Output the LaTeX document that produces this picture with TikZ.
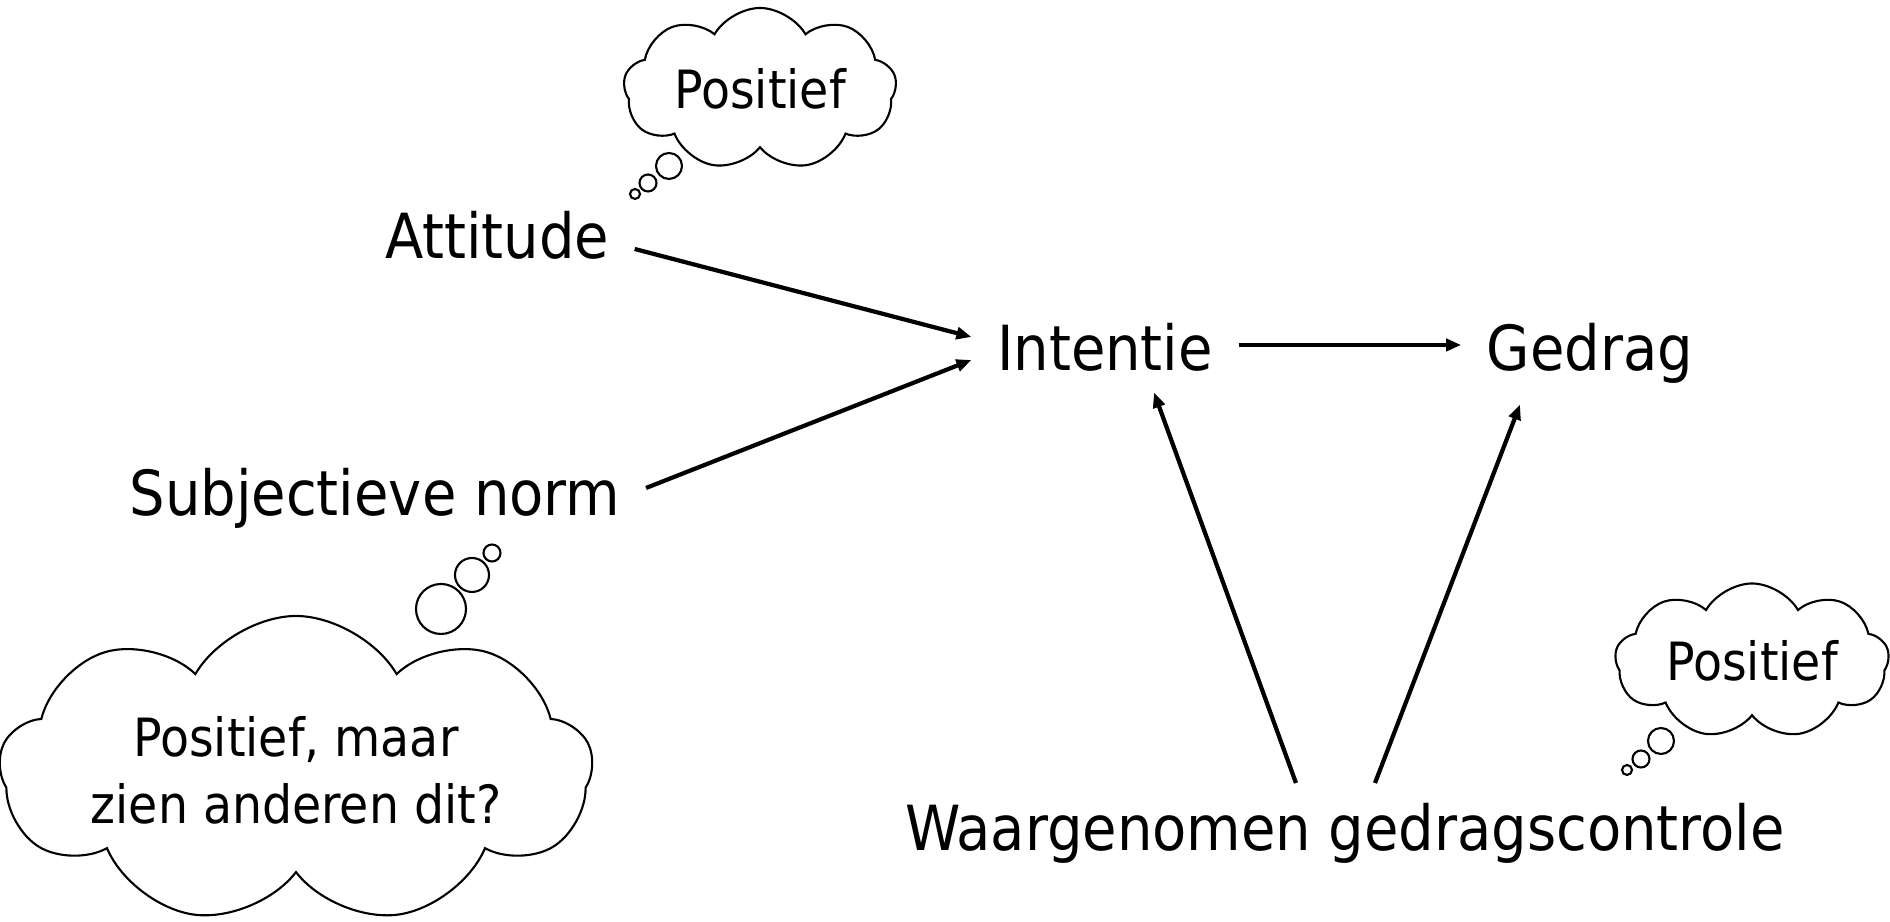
\documentclass[tikz,border=0pt]{standalone}
\usepackage{fontspec}
\setmainfont{DejaVu Sans Condensed}
\usepackage{tikz}
\usetikzlibrary{arrows.meta}
\usetikzlibrary{shapes.symbols}
\usetikzlibrary{positioning}

\begin{document}
\begin{tikzpicture}[
    every node/.style={font=\fontsize{17.7}{21}\selectfont},
    concept/.style={anchor=base, inner xsep=0.25cm, inner ysep=0.2cm},
    thought/.style={cloud, cloud ignores aspect, draw, line width=0.6pt, cloud puffs=9,
        cloud puff arc=120, inner sep=0pt, align=center, font=\fontsize{15}{19}\selectfont},
    bubble/.style={draw, line width=0.6pt},
    link/.style={-{Triangle[length=0.15cm, width=0.12cm]}, line width=1.2pt}]

\useasboundingbox (0,0) rectangle (18.9,9.22);

% Nodes
\node[concept] (attitude) at (4.97,6.63) {Attitude};
\node[concept] (intentie) at (11.05,5.51) {Intentie};
\node[concept] (gedrag) at (15.90,5.51) {Gedrag};
\node[concept] (subjnorm) at (3.75,4.06) {Subjectieve norm};
\node[concept] (controle) at (13.45,0.71) {Waargenomen gedragscontrole};

% Clouds
\node[thought, minimum width=2.73cm, minimum height=1.62cm] (cloudatt) at (7.60,8.33) {Positief};
\node[thought, minimum width=5.93cm, minimum height=3.08cm] (cloudnorm) at (2.96,1.52) {Positief, maar\\ zien anderen dit?};
\node[thought, minimum width=2.74cm, minimum height=1.55cm] (cloudctrl) at (17.52,2.61) {Positief};

\draw[bubble] (6.69,7.56) circle (0.13) (6.48,7.39) circle (0.085) (6.35,7.28) circle (0.05);
\draw[bubble] (4.41,3.13) circle (0.25) (4.72,3.47) circle (0.17) (4.92,3.69) circle (0.085);
\draw[bubble] (16.61,1.81) circle (0.13) (16.41,1.63) circle (0.085) (16.27,1.52) circle (0.05);

% Arrows
\draw[link] ([yshift=0.1cm]attitude.base east) -- ([yshift=0.34cm]intentie.base west);
\draw[link] ([yshift=0.28cm]subjnorm.base east) -- ([yshift=0.11cm]intentie.base west);
\draw[link] ([yshift=0.26cm]intentie.base east) -- ([yshift=0.26cm]gedrag.base west);
\draw[link] ([xshift=-0.49cm]controle.north) -- ([xshift=0.49cm]intentie.south);
\draw[link] ([xshift=0.30cm]controle.north) -- ([xshift=-0.70cm]gedrag.south);
\end{tikzpicture}
\end{document}
